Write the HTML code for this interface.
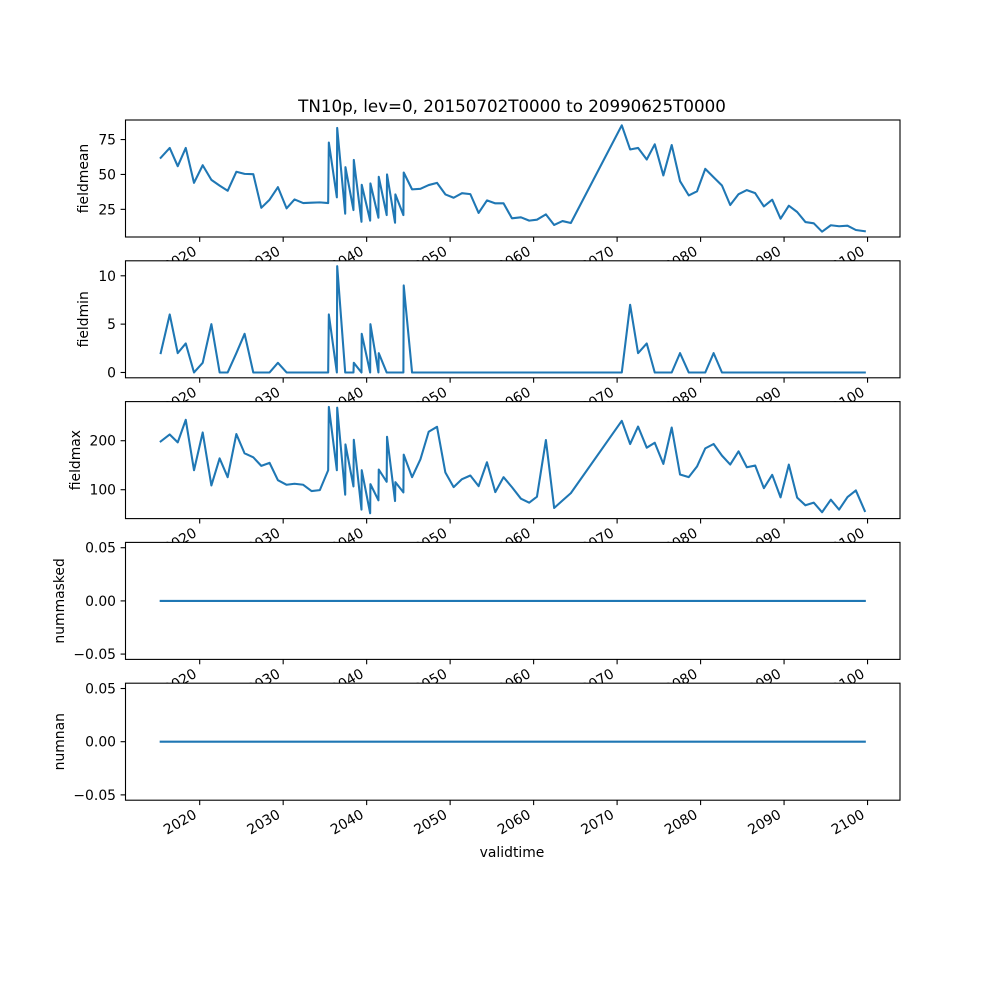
<!DOCTYPE html>
<html><head><meta charset="utf-8"><style>
html,body{margin:0;padding:0;background:#fff;}
svg{display:block;font-family:"DejaVu Sans","Liberation Sans",sans-serif;}
</style></head><body>
<svg id="chart" width="1000" height="1000" viewBox="0 0 1000 1000" xmlns="http://www.w3.org/2000/svg">
<rect x="0" y="0" width="1000" height="1000" fill="#fff"/>
<text x="512" y="112" font-size="16.7" text-anchor="middle" fill="#000">TN10p, lev=0, 20150702T0000 to 20990625T0000</text>
<text x="512" y="857" font-size="13.9" text-anchor="middle" fill="#000">validtime</text>
</svg>
<script>
const times=[2015.33,2016.41,2017.37,2018.33,2019.32,2020.36,2021.4,2022.39,2023.35,2024.39,2025.38,2026.42,2027.38,2028.37,2029.37,2030.41,2031.36,2032.4,2033.4,2034.39,
2035.39,2035.47,2036.43,2036.47,2037.43,2037.46,2038.42,2038.46,2039.38,2039.41,2040.42,2040.45,2041.41,2041.45,2042.4,2042.44,2043.4,2043.44,2044.4,2044.44,
2045.44,2046.44,2047.43,2048.43,2049.43,2050.42,2051.42,2052.42,2053.41,2054.41,2055.41,2056.4,2057.4,2058.48,2059.47,2060.4,2061.47,2062.46,2063.46,2064.46,
2070.56,2071.56,2072.51,2073.55,2074.51,2075.54,2076.54,2077.54,2078.58,2079.57,2080.56,2081.56,2082.56,2083.55,2084.55,2085.54,2086.54,2087.58,2088.58,2089.58,2090.57,2091.57,2092.56,2093.56,2094.55,2095.6,2096.59,2097.6,2098.6,2099.67];
const fieldmean=[61.9,69,55.9,69,44,56.6,46.1,42,38.3,51.9,50.4,50.2,26.1,31.9,40.9,25.7,32.1,29.5,29.8,30,
29.5,72.9,33.6,83.3,21.9,55.2,24.5,60.4,16.1,42.6,16.9,43.6,19,48.3,20.9,50,15.4,35.7,20.9,51.4,
39.3,39.7,42.4,44,35.7,33.3,36.6,35.9,22.4,31.4,29.3,29.3,18.6,19.3,16.9,17.6,21.4,13.8,16.6,15.2,
85.2,67.9,69,60.7,71.6,49.3,71.1,45.2,35,37.9,54,48,42.1,28.1,35.9,38.8,36.6,27.1,31.9,18.3,27.6,23.1,15.9,15,9,13.6,12.9,13.3,10.2,9.3];
const fieldmin=[2,6,2,3,0,1,5,0,0,2,4,0,0,0,1,0,0,0,0,0,
0,6,0,11,0,0,0,1,0,4,0,5,0,2,0,0,0,0,0,9,
0,0,0,0,0,0,0,0,0,0,0,0,0,0,0,0,0,0,0,0,
0,7,2,3,0,0,0,2,0,0,0,2,0,0,0,0,0,0,0,0,0,0,0,0,0,0,0,0,0,0];
const fieldmax=[198.6,212.8,196.6,242.6,139.8,216.8,108.7,164,125.6,213.6,174.2,166.1,148.7,154.8,119.5,110.1,112.2,110.1,97.2,99.2,
139.8,269,139.8,267.5,89.9,192.5,106.7,202,59.4,139.8,51.9,111.4,78.3,141.2,116.2,208.1,76.9,115.4,94.5,171.6,
125.6,162.1,218.3,228.4,135.1,105.3,121.5,129,107.3,156,95.1,125.6,105.3,81.7,73.6,85.8,201.4,62.7,78,93.1,
240.6,193.3,229,185.8,195.9,152.7,227,131,125.6,147.3,184.4,193.3,169.6,151.3,178.3,145.8,149.3,103.2,130.4,84.4,151.3,83.8,68.2,73.6,54,79.7,59.4,85,98.6,56.6];
const nummasked=[0,0,0,0,0,0,0,0,0,0,0,0,0,0,0,0,0,0,0,0,0,0,0,0,0,0,0,0,0,0,0,0,0,0,0,0,0,0,0,0,0,0,0,0,0,0,0,0,0,0,0,0,0,0,0,0,0,0,0,0,0,0,0,0,0,0,0,0,0,0,0,0,0,0,0,0,0,0,0,0,0,0,0,0,0,0,0,0,0,0];
const numnan=[0,0,0,0,0,0,0,0,0,0,0,0,0,0,0,0,0,0,0,0,0,0,0,0,0,0,0,0,0,0,0,0,0,0,0,0,0,0,0,0,0,0,0,0,0,0,0,0,0,0,0,0,0,0,0,0,0,0,0,0,0,0,0,0,0,0,0,0,0,0,0,0,0,0,0,0,0,0,0,0,0,0,0,0,0,0,0,0,0,0];
const xTicks=[2020,2030,2040,2050,2060,2070,2080,2090,2100];
const xTickLabels=["2020","2030","2040","2050","2060","2070","2080","2090","2100"];
const meanTicks=[25,50,75];
const minTicks=[0,5,10];
const maxTicks=[100,200];
const zeroTicks=[-0.05,0,0.05];
const zeroTickLabels=["\u22120.05","0.00","0.05"];

const NS="http://www.w3.org/2000/svg";
const svg=document.getElementById('chart');
const L=125.5,R=900,H=117;
const tmin=Math.min(...times),tmax=Math.max(...times),tp=(tmax-tmin)*0.05;
function xs(t){return L+(t-(tmin-tp))/((tmax+tp)-(tmin-tp))*(R-L);}
function mk(tag,attrs){const e=document.createElementNS(NS,tag);for(const k in attrs)e.setAttribute(k,attrs[k]);return e;}

const panels=[
 {key:'fieldmean',vals:fieldmean,top:120,ticks:meanTicks,labels:meanTicks.map(String),lx:83},
 {key:'fieldmin',vals:fieldmin,top:260.8,ticks:minTicks,labels:minTicks.map(String),lx:83},
 {key:'fieldmax',vals:fieldmax,top:401.6,ticks:maxTicks,labels:maxTicks.map(String),lx:75},
 {key:'nummasked',vals:nummasked,top:542.4,ticks:zeroTicks,labels:zeroTickLabels,lx:59},
 {key:'numnan',vals:numnan,top:683.2,ticks:zeroTicks,labels:zeroTickLabels,lx:59}
];
panels.forEach(p=>{
 let lo,hi;
 const mn=Math.min(...p.vals),mx=Math.max(...p.vals);
 if(mx===mn){lo=mn-0.055;hi=mx+0.055;}else{const m=(mx-mn)*0.05;lo=mn-m;hi=mx+m;}
 const top=p.top,bot=top+H;
 const ys=v=>bot-(v-lo)/(hi-lo)*H;
 const g=mk('g',{});
 
 
 svg.appendChild(g);
 const bg=mk('rect',{x:L,y:top,width:R-L,height:H,fill:'#fff'});
 
 
 g.appendChild(bg);
 const d=p.vals.map((v,i)=>(i?'L':'M')+xs(times[i]).toFixed(2)+','+ys(v).toFixed(2)).join('');
 const line=mk('path',{d:d,fill:'none',stroke:'#1f77b4','stroke-width':2.08,'stroke-linejoin':'round','stroke-linecap':'square'});
 
 
 g.appendChild(line);
 const fr=mk('rect',{x:L,y:top,width:R-L,height:H,fill:'none',stroke:'#000','stroke-width':1.1});
 
 
 g.appendChild(fr);
 p.ticks.forEach((t,i)=>{
  const y=ys(t);
  const tk=mk('line',{x1:L-4.9,x2:L,y1:y,y2:y,stroke:'#000','stroke-width':1.1});
  
  
  g.appendChild(tk);
  const tl=mk('text',{x:L-9.5,y:y+5,'font-size':13.9,'text-anchor':'end',fill:'#000'});
  tl.textContent=p.labels[i];
  
  
  g.appendChild(tl);
 });
 const yl=mk('text',{x:p.lx,y:top+H/2,'font-size':13.9,'text-anchor':'middle',fill:'#000',transform:'rotate(-90 '+(p.lx)+' '+(top+H/2)+')',dy:'0.35em'});
 yl.textContent=p.key;
 
 
 g.appendChild(yl);
 xTicks.forEach((t,i)=>{
  const x=xs(t);
  const tk=mk('line',{x1:x,x2:x,y1:bot,y2:bot+4.9,stroke:'#000','stroke-width':1.1});
  
  
  g.appendChild(tk);
  const ax=x-2,ay=bot+17;
  const tl=mk('text',{x:ax,y:ay,'font-size':13.9,'text-anchor':'end',fill:'#000',transform:'rotate(-30 '+ax+' '+ay+')'});
  tl.textContent=xTickLabels[i];
  
  
  g.appendChild(tl);
 });
});
</script>
</body></html>
